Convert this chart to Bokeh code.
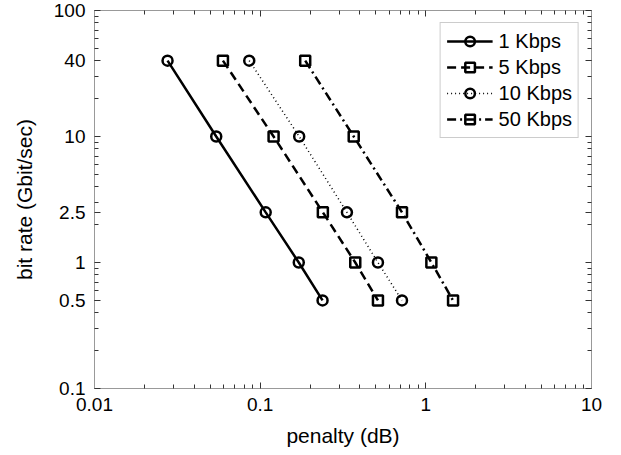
from bokeh.plotting import figure
from bokeh.models import LogAxis, FixedTicker, Legend
from bokeh.embed import file_html
from bokeh.resources import INLINE

# data
rates = [40, 10, 2.5, 1, 0.5]
pen_1k = [0.0276, 0.0543, 0.108, 0.171, 0.238]
pen_5k = [0.0596, 0.1205, 0.239, 0.375, 0.514]
pen_10k = [0.0859, 0.172, 0.334, 0.514, 0.718]
pen_50k = [0.187, 0.367, 0.718, 1.08, 1.46]

x_major = [0.01, 0.1, 1, 10]
y_major = [0.1, 0.5, 1, 2.5, 10, 40, 100]
y_labels = {0.1: "0.1", 0.5: "0.5", 1: "1", 2.5: "2.5", 10: "10", 40: "40", 100: "100"}
x_labels = {0.01: "0.01", 0.1: "0.1", 1: "1", 10: "10"}

def log_minor(lo_exp, hi_exp):
    out = []
    for e in range(lo_exp, hi_exp):
        for m in range(2, 10):
            out.append(round(m * 10 ** e, 6))
    return out

x_minor = log_minor(-2, 1)
y_minor = log_minor(-1, 2)

FONT = "Liberation Sans"

p = figure(width=620, height=454, x_axis_type="log", y_axis_type="log",
           x_range=(0.01, 10), y_range=(0.1, 100),
           output_backend="svg", toolbar_location=None,
           min_border_left=94, min_border_right=29,
           min_border_top=10, min_border_bottom=66)
p.xgrid.visible = False
p.ygrid.visible = False
p.outline_line_color = "#999999"
p.outline_line_width = 1
p.background_fill_color = "white"
p.border_fill_color = "white"

def style_axis(ax, show_labels):
    ax.axis_line_color = "#999999"
    ax.major_tick_line_color = "#333333"
    ax.minor_tick_line_color = "#333333"
    ax.major_tick_in = 6
    ax.major_tick_out = 0
    ax.minor_tick_in = 4
    ax.minor_tick_out = 0
    if show_labels:
        ax.major_label_text_font = FONT
        ax.major_label_text_font_size = "19px"
        ax.major_label_text_color = "black"
        ax.axis_label_text_font = FONT
        ax.axis_label_text_font_size = "21px"
        ax.axis_label_text_font_style = "normal"
        ax.axis_label_text_color = "black"
    else:
        ax.major_label_text_font_size = "2px"
        ax.major_label_text_alpha = 0
        ax.major_label_standoff = 0

xa = p.xaxis[0]
ya = p.yaxis[0]
xa.ticker = FixedTicker(ticks=x_major, minor_ticks=x_minor)
ya.ticker = FixedTicker(ticks=y_major, minor_ticks=y_minor)
xa.major_label_overrides = x_labels
ya.major_label_overrides = y_labels
style_axis(xa, True)
style_axis(ya, True)
xa.axis_label = "penalty (dB)"
ya.axis_label = "bit rate (Gbit/sec)"
xa.major_label_standoff = 9
xa.axis_label_standoff = 10
ya.major_label_standoff = 9
ya.axis_label_standoff = 15

top = LogAxis(ticker=FixedTicker(ticks=x_major, minor_ticks=x_minor))
style_axis(top, False)
p.add_layout(top, "above")
right = LogAxis(ticker=FixedTicker(ticks=y_major, minor_ticks=y_minor))
style_axis(right, False)
p.add_layout(right, "right")

series = [
    ("1 Kbps", pen_1k, "circle", "solid", 2.5),
    ("5 Kbps", pen_5k, "square", "9 5", 2.5),
    ("10 Kbps", pen_10k, "circle", "1 3", 1.5),
    ("50 Kbps", pen_50k, "square", "9 4 2 4", 2.5),
]
items = []
for label, xs, mk, dash, lw in series:
    r1 = p.line(xs, rates, line_color="black", line_width=lw, line_dash=dash)
    r2 = p.scatter(xs, rates, marker=mk, size=10, line_color="black",
                   line_width=2.5, fill_color=None)
    items.append((label, [r1, r2]))

legend = Legend(items=items, location="top_right")
legend.label_text_font = FONT
legend.label_text_font_size = "20px"
legend.label_text_color = "black"
legend.border_line_color = "#999999"
legend.border_line_width = 1
legend.background_fill_color = "white"
legend.background_fill_alpha = 1
legend.padding = 6
legend.spacing = 2
legend.margin = 12
legend.glyph_width = 46
legend.glyph_height = 24
legend.label_height = 24
legend.label_standoff = 6
p.add_layout(legend)

open("out.html", "w").write(file_html(p, INLINE))
